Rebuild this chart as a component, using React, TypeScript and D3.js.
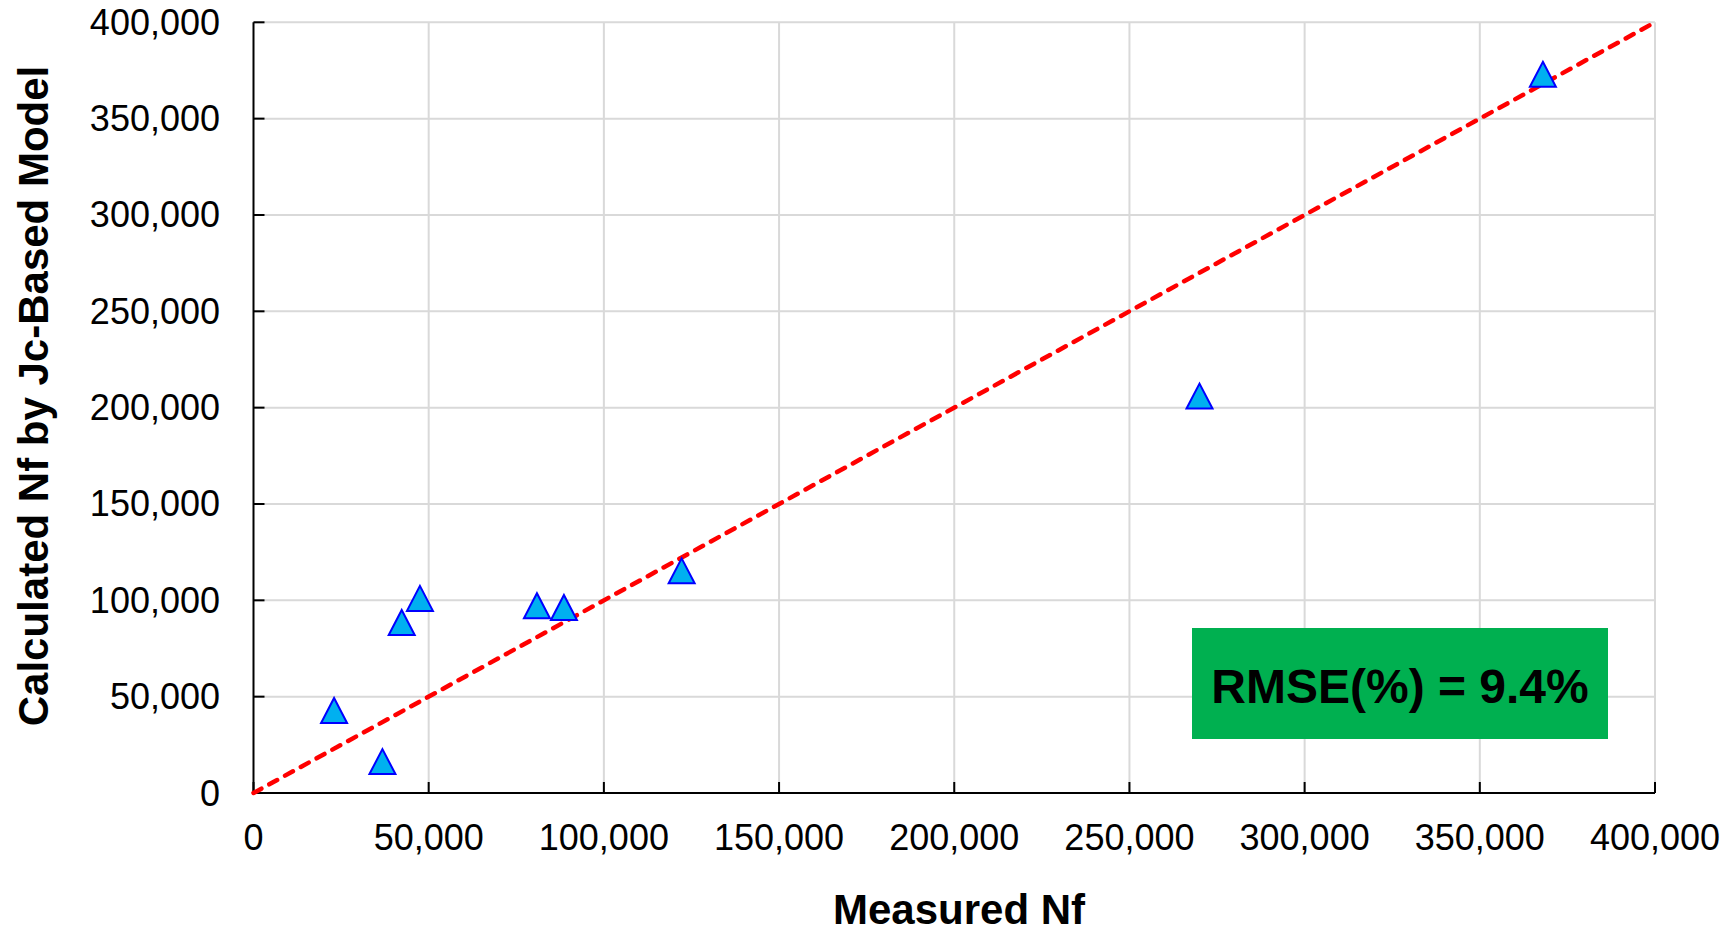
import React from "react";
import * as d3 from "d3";

const measuredNf = [23000, 36800, 42300, 47500, 80900, 88600, 122200, 270000, 368000];
const calculatedNf = [42800, 16300, 88500, 101000, 97200, 96300, 115300, 206000, 373000];
const tickValues = [0, 50000, 100000, 150000, 200000, 250000, 300000, 350000, 400000];
const xTitle = "Measured Nf";
const yTitle = "Calculated Nf by Jc-Based Model";
const rmseLabel = "RMSE(%) = 9.4%";

const W = 1731;
const H = 932;
const left = 253.5;
const right = 1655;
const top = 22.3;
const bottom = 793;

export default function App() {
  const x = d3.scaleLinear().domain([0, 400000]).range([left, right]);
  const y = d3.scaleLinear().domain([0, 400000]).range([bottom, top]);
  const fmt = d3.format(",");
  const font = "'Liberation Sans', Arial, sans-serif";
  const tri = (cx: number, cy: number) => {
    const hw = 13, hh = 12.5;
    return `M${cx},${cy - hh}L${cx + hw},${cy + hh}L${cx - hw},${cy + hh}Z`;
  };
  return (
    <svg width={W} height={H} style={{ position: "absolute", left: 0, top: 0, background: "#fff" }} fontFamily={font}>
      <rect x={0} y={0} width={W} height={H} fill="#fff" />
      {/* gridlines */}
      {tickValues.filter((t) => t > 0).map((t) => (
        <line key={"gx" + t} x1={x(t)} x2={x(t)} y1={top} y2={bottom} stroke="#d9d9d9" strokeWidth={2} />
      ))}
      {tickValues.filter((t) => t > 0).map((t) => (
        <line key={"gy" + t} x1={left} x2={right} y1={y(t)} y2={y(t)} stroke="#d9d9d9" strokeWidth={2} />
      ))}
      {/* axes */}
      <line x1={left} x2={left} y1={top} y2={bottom} stroke="#000" strokeWidth={2} />
      <line x1={left} x2={right} y1={bottom} y2={bottom} stroke="#000" strokeWidth={2} />
      {tickValues.map((t) => (
        <line key={"ty" + t} x1={left} x2={left + 11} y1={y(t)} y2={y(t)} stroke="#000" strokeWidth={2} />
      ))}
      {tickValues.map((t) => (
        <line key={"tx" + t} x1={x(t)} x2={x(t)} y1={bottom} y2={bottom - 11} stroke="#000" strokeWidth={2} />
      ))}
      {/* tick labels */}
      {tickValues.map((t) => (
        <text key={"ly" + t} x={220} y={y(t) + 12.5} textAnchor="end" fontSize={36} fill="#000">
          {fmt(t)}
        </text>
      ))}
      {tickValues.map((t) => (
        <text key={"lx" + t} x={x(t)} y={850} textAnchor="middle" fontSize={36} fill="#000">
          {fmt(t)}
        </text>
      ))}
      {/* 1:1 line */}
      <line
        x1={x(0)}
        y1={y(0)}
        x2={x(400000)}
        y2={y(400000)}
        stroke="#ff0000"
        strokeWidth={4.5}
        strokeDasharray="9 9"
        strokeLinecap="round"
      />
      {/* points */}
      {measuredNf.map((m, i) => (
        <path key={"p" + i} d={tri(x(m), y(calculatedNf[i]))} fill="#00b0f0" stroke="#0000ff" strokeWidth={2} strokeLinejoin="miter" />
      ))}
      {/* RMSE box */}
      <rect x={1192} y={628} width={416} height={111} fill="#00b050" />
      <text x={1400} y={703} textAnchor="middle" fontSize={48} fontWeight="bold" fill="#000">
        {rmseLabel}
      </text>
      {/* axis titles */}
      <text x={959} y={924} textAnchor="middle" fontSize={42} fontWeight="bold" fill="#000">
        {xTitle}
      </text>
      <text transform="translate(48,396) rotate(-90)" textAnchor="middle" fontSize={42} fontWeight="bold" fill="#000">
        {yTitle}
      </text>
    </svg>
  );
}
